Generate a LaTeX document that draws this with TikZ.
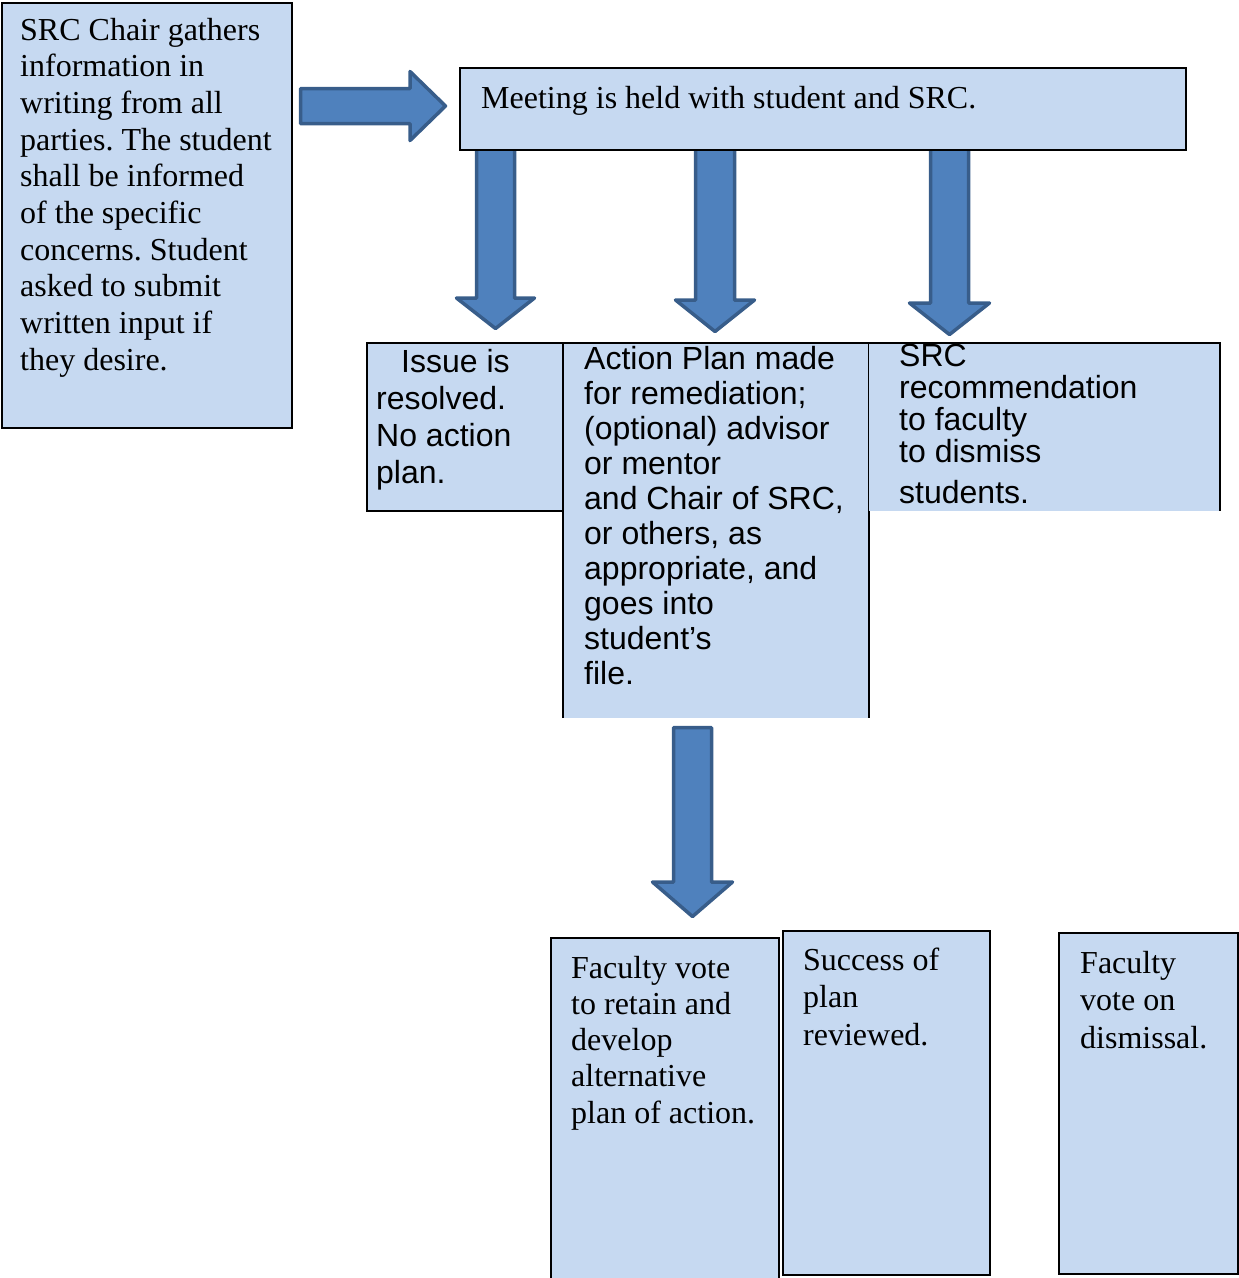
\documentclass[tikz,border=0pt]{standalone}
\usepackage{fontspec}
\newfontfamily\tnr{Liberation Serif}
\newfontfamily\arl{Liberation Sans}
\definecolor{boxfill}{HTML}{C6D9F1}
\definecolor{arrfill}{HTML}{4F81BD}
\definecolor{arrline}{HTML}{385D8A}
\frenchspacing
\tikzset{
  boxfull/.style={fill=boxfill, draw=black, line width=2pt, inner sep=0pt},
  boxbare/.style={fill=boxfill, draw=none, inner sep=0pt},
  edge/.style={draw=black, line width=2pt},
  blockarrow/.style={fill=arrfill, draw=arrline, line width=3.5pt, line join=round},
  serif/.style={font=\tnr\fontsize{32}{36.7}\selectfont, anchor=base west, inner sep=0pt, align=left},
  sans/.style={font=\arl\fontsize{32}{35}\selectfont, anchor=base west, inner sep=0pt, align=left},
}
\begin{document}
\begin{tikzpicture}[x=1pt,y=-1pt]
\useasboundingbox (0,0) rectangle (1239,1278);

% block arrows
\draw[blockarrow] (300.5,88.5) -- (410,88.5) -- (410,71.5) -- (445.5,106) -- (410,140.5) -- (410,123.5) -- (300.5,123.5) -- cycle;
\draw[blockarrow] (476.5,146) -- (514.5,146) -- (514.5,298) -- (534.5,298) -- (495.5,328.5) -- (456.5,298) -- (476.5,298) -- cycle;
\draw[blockarrow] (695.5,146) -- (734.5,146) -- (734.5,300) -- (754.5,300) -- (715,331.5) -- (675.5,300) -- (695.5,300) -- cycle;
\draw[blockarrow] (930.5,146) -- (968.5,146) -- (968.5,303) -- (989.5,303) -- (949.5,334.5) -- (909.5,303) -- (930.5,303) -- cycle;
\draw[blockarrow] (673.5,727.5) -- (711.5,727.5) -- (711.5,882) -- (732.5,882) -- (692.5,916.5) -- (652.5,882) -- (673.5,882) -- cycle;

% boxes
\node[boxfull, minimum width=290pt, minimum height=425pt] (A) at (146.5,215) {};
\node[boxfull, minimum width=726pt, minimum height=82pt] (B) at (823,109) {};
\node[boxfull, minimum width=196pt, minimum height=168pt] (C) at (465,427) {};
\node[boxbare, minimum width=306pt, minimum height=375pt] (D) at (716,530.5) {};
\draw[edge] (D.south west) -- (D.north west) -- (D.north east) -- (D.south east);
\node[boxbare, minimum width=351pt, minimum height=168pt] (E) at (1044.5,427) {};
\draw[edge] (E.north west) -- (E.north east) -- (E.south east);
\node[boxbare, minimum width=228pt, minimum height=341pt] (F) at (665,1108.5) {};
\draw[edge] (F.south west) -- (F.north west) -- (F.north east) -- (F.south east);
\node[boxfull, minimum width=207pt, minimum height=344pt] (G) at (886.5,1103) {};
\node[boxfull, minimum width=179pt, minimum height=341pt] (H) at (1148.5,1103.5) {};

% texts (anchored at the baseline of the last line)
\node[serif] (tA) at (20,370.3) {SRC Chair gathers\\information in\\writing from all\\parties. The student\\shall be informed\\of the specific\\concerns. Student\\asked to submit\\written input if\\they desire.};
\node[serif] (tB) at (481,108) {Meeting is held with student and SRC.};
\node[sans, font=\arl\fontsize{32}{37}\selectfont] (tC) at (376,483) {\hspace*{25pt}Issue is\\resolved.\\No action\\plan.};
\node[sans] (tD) at (584,684) {Action Plan made\\for remediation;\\(optional) advisor\\or mentor\\and Chair of SRC,\\or others, as\\appropriate, and\\goes into\\student’s\\file.};
\node[sans, font=\arl\fontsize{32}{32}\selectfont] (tE) at (899,503) {SRC\\recommendation\\to faculty\\to dismiss\\[9pt]students.};
\node[serif, font=\tnr\fontsize{32}{36.3}\selectfont] (tF) at (571,1123.2) {Faculty vote\\to retain and\\develop\\alternative\\plan of action.};
\node[serif, font=\tnr\fontsize{32}{37.5}\selectfont] (tG) at (803,1045) {Success of\\plan\\reviewed.};
\node[serif, font=\tnr\fontsize{32}{37.5}\selectfont] (tH) at (1080,1048) {Faculty\\vote on\\dismissal.};
\end{tikzpicture}
\end{document}
